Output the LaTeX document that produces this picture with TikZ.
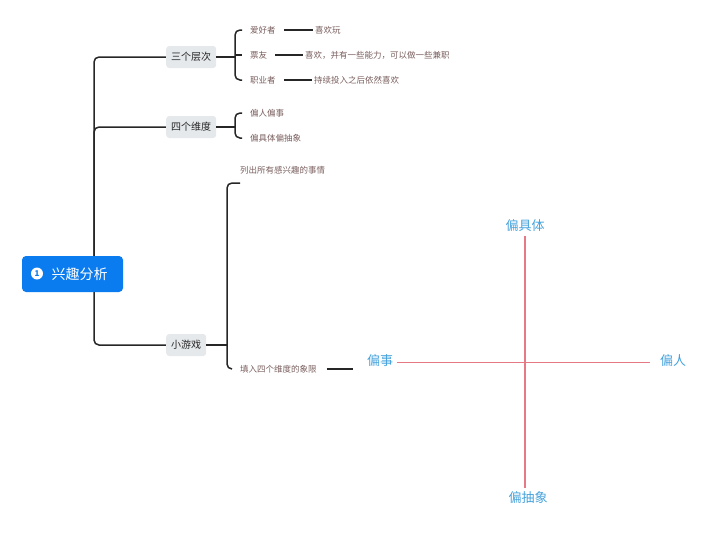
\documentclass[tikz,border=0pt]{standalone}
\usepackage{fontspec}
\setmainfont{Noto Sans CJK SC}
\usetikzlibrary{positioning,backgrounds}
\definecolor{rootblue}{HTML}{0A7CF0}
\definecolor{boxgrey}{HTML}{E6E9EC}
\definecolor{leaftext}{HTML}{7A5E5E}
\definecolor{axisred}{HTML}{E57A86}
\definecolor{quadblue}{HTML}{45A2DC}
\tikzset{
    rootnode/.style={fill=rootblue,rounded corners=4pt,minimum width=101pt,minimum height=36pt,text=white,font=\fontsize{14}{16}\selectfont},
    rootnum/.style={circle,fill=white,text=rootblue,inner sep=0pt,minimum size=12pt,font=\fontsize{8}{8}\selectfont\bfseries},
    topicnode/.style={fill=boxgrey,rounded corners=3pt,inner xsep=5pt,minimum height=22pt,text=black!85,font=\fontsize{10}{12}\selectfont,anchor=west},
    leafnode/.style={text=leaftext,inner xsep=8pt,inner ysep=1pt,font=\fontsize{8.5}{10}\selectfont,anchor=west},
    detailnode/.style={text=leaftext,inner xsep=2pt,inner ysep=1pt,font=\fontsize{8.5}{10}\selectfont,anchor=west},
    branch/.style={line width=1.5pt,draw=black!85,rounded corners=5pt},
    quadlabel/.style={text=quadblue,inner sep=4pt,font=\fontsize{13}{15}\selectfont},
    haxis/.style={draw=axisred,line width=1pt},
    vaxis/.style={draw=axisred,line width=2pt}
}
\begin{document}
\begin{tikzpicture}[x=1pt,y=-1pt]
  \useasboundingbox (0,0) rectangle (720,549);

  % root
  \node[rootnode] (root) at (72.5,274) {\hspace{14pt}兴趣分析};
  \node[rootnum] (num) at (37,273.5) {1};
  \coordinate (hub) at (94,274);

  % main topics
  \node[topicnode] (layers) at (166,57) {三个层次};
  \node[topicnode] (dims) at (166,127) {四个维度};
  \node[topicnode] (game) at (166,345) {小游戏};

  % 三个层次
  \node[leafnode] (fan) at (242,30) {爱好者};
  \node[leafnode] (amateur) at (242,55) {票友};
  \node[leafnode] (pro) at (242,80) {职业者};
  \node[detailnode] (fanx) at (313,30) {喜欢玩};
  \node[detailnode] (amateurx) at (303,55) {喜欢，并有一些能力，可以做一些兼职};
  \node[detailnode] (prox) at (312,80) {持续投入之后依然喜欢};
  \coordinate (layersbar) at (235,57);

  % 四个维度
  \node[leafnode] (dimpe) at (242,113) {偏人偏事};
  \node[leafnode] (dimca) at (242,138) {偏具体偏抽象};
  \coordinate (dimsbar) at (235,127);

  % 小游戏
  \node[detailnode] (list) at (238,170) {列出所有感兴趣的事情};
  \coordinate (listend) at (240,183);
  \node[leafnode] (fill) at (232,369) {填入四个维度的象限};
  \coordinate (gamebar) at (227,345);
  \coordinate (qlink) at (353,369);

  % quadrant
  \node[quadlabel] (qtop) at (525,226) {偏具体};
  \node[quadlabel] (qbot) at (528,498) {偏抽象};
  \node[quadlabel] (qleft) at (380,361) {偏事};
  \node[quadlabel] (qright) at (673,361) {偏人};
  \draw[haxis] ([yshift=-1pt]qleft.east) -- ([xshift=-6pt,yshift=-1pt]qleft.east -| qright.west);
  \draw[vaxis] (qtop.south) -- (qtop.south |- qbot.north);

  \begin{pgfonlayer}{background}
    \draw[branch] (hub) |- (layers.west);
    \draw[branch] (hub) |- (dims.west);
    \draw[branch] (hub) |- (game.west);
  \end{pgfonlayer}

  \draw[branch] (layers.east) -- (layersbar);
  \draw[branch] (fan.west) -| (layersbar) |- (pro.west);
  \draw[branch] (layersbar |- amateur.west) -- (amateur.west);
  \draw[branch] (fan.east) -- (fanx.west);
  \draw[branch] (amateur.east) -- (amateurx.west);
  \draw[branch] (pro.east) -- (prox.west);

  \draw[branch] (dims.east) -- (dimsbar);
  \draw[branch] (dimpe.west) -| (dimsbar) |- (dimca.west);

  \draw[branch] (game.east) -- (gamebar);
  \draw[branch] (listend) -| (gamebar) |- (fill.west);
  \draw[branch] ([xshift=2pt]fill.east) -- (qlink);
\end{tikzpicture}
\end{document}
